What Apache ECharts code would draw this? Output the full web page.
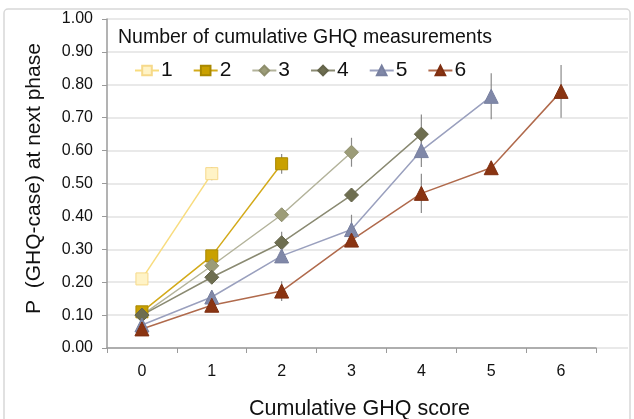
<!DOCTYPE html>
<html>
<head>
<meta charset="utf-8">
<script src="https://cdn.jsdelivr.net/npm/echarts@6/dist/echarts.min.js"></script>
<style>
html,body{margin:0;padding:0;background:#fff;overflow:hidden;}
#c{width:634px;height:419px;}
</style>
</head>
<body>
<div id="c"></div>
<script>
const categories = ['0','1','2','3','4','5','6'];
const seriesNames = ['1','2','3','4','5','6'];
const s1 = [0.21, 0.53];
const s2 = [0.11, 0.28, 0.56];
const s3 = [0.10, 0.25, 0.405, 0.595];
const s4 = [0.10, 0.215, 0.32, 0.465, 0.65];
const s5 = [0.07, 0.155, 0.28, 0.36, 0.60, 0.765];
const s6 = [0.058, 0.13, 0.173, 0.328, 0.47, 0.548, 0.78];
const e1 = [0.01, 0.02];
const e2 = [0.01, 0.015, 0.03];
const e3 = [0.01, 0.015, 0.02, 0.044];
const e4 = [0.01, 0.015, 0.033, 0.02, 0.06];
const e5 = [0.01, 0.015, 0.02, 0.045, 0.05, 0.07];
const e6 = [0.01, 0.015, 0.03, 0.02, 0.06, 0.02, 0.08];
const yTicks = ['0.00','0.10','0.20','0.30','0.40','0.50','0.60','0.70','0.80','0.90','1.00'];

const values = [s1, s2, s3, s4, s5, s6];
const errors = [e1, e2, e3, e4, e5, e6];
const styles = [
  {symbol:'rect', size:12, fill:'#FFF3C6', border:'#F6D98A', line:'#F8DC7E'},
  {symbol:'rect', size:12, fill:'#C9A000', border:'#A98800', line:'#D3AA1A'},
  {symbol:'diamond', size:14, fill:'#9C9C78', border:'#8E8E6C', line:'#B3B39B'},
  {symbol:'diamond', size:14, fill:'#6E6E50', border:'#64644A', line:'#8A8A72'},
  {symbol:'triangle', size:14, fill:'#8088A8', border:'#7880A0', line:'#9AA0BE'},
  {symbol:'triangle', size:14, fill:'#8A3412', border:'#7E2E10', line:'#B06A4C'}
];

const chart = echarts.init(document.getElementById('c'), null, {width: 634, height: 419});
const series = [];
values.forEach((v, i) => {
  const st = styles[i];
  series.push({
    name: seriesNames[i],
    type: 'line',
    data: v,
    symbol: st.symbol,
    symbolSize: st.size,
    z: 5,
    lineStyle: {color: st.line, width: 1.5},
    itemStyle: {color: st.fill, borderColor: st.border, borderWidth: 1},
    emphasis: {disabled: true},
    animation: false
  });
  series.push({
    type: 'custom',
    z: 3,
    silent: true,
    animation: false,
    data: v.map((val, k) => [k, val - errors[i][k], val + errors[i][k]]),
    renderItem: function (params, api) {
      const lo = api.coord([api.value(0), api.value(1)]);
      const hi = api.coord([api.value(0), api.value(2)]);
      return {type:'line', shape:{x1:lo[0], y1:lo[1], x2:hi[0], y2:hi[1]}, style:{stroke:'#8a8a8a', lineWidth:1.2}};
    }
  });
});

chart.setOption({
  animation: false,
  backgroundColor: '#fff',
  textStyle: {fontFamily: 'Liberation Sans, Arial, sans-serif'},
  title: {
    text: 'Number of cumulative GHQ measurements',
    left: 113, top: 23,
    textStyle: {fontFamily: 'Liberation Sans, Arial, sans-serif', fontSize: 19.5, fontWeight: 'normal', color: '#111'}
  },
  legend: {
    data: seriesNames,
    left: 129, top: 55,
    itemWidth: 24, itemHeight: 12, itemGap: 20,
    textStyle: {fontFamily: 'Liberation Sans, Arial, sans-serif', fontSize: 21, color: '#111', padding:[0,0,0,-3]}
  },
  graphic: [{
    type: 'rect', silent: true,
    shape: {x: 4, y: 9, width: 626, height: 420, r: 4},
    style: {fill: 'none', stroke: '#d8d8d8', lineWidth: 1.5}
  }],
  grid: [
    {left: 107, right: 38, top: 19, bottom: 71, containLabel: false, outerBoundsMode: 'none'},
    {left: 107, right: 6, top: 19, bottom: 71, containLabel: false, outerBoundsMode: 'none'}
  ],
  xAxis: [{
    type: 'category',
    gridIndex: 0,
    data: categories,
    boundaryGap: true,
    name: 'Cumulative GHQ score',
    nameLocation: 'middle',
    nameGap: 50,
    nameTextStyle: {fontSize: 21.5, color: '#111', padding: [0, 0, 0, 16]},
    axisLine: {lineStyle: {color: '#9a9a9a', width: 1.5}},
    axisTick: {show: true, interval: 0, length: 5, lineStyle: {color: '#9a9a9a'}},
    axisLabel: {fontSize: 16, color: '#111', margin: 16},
    z: 2
  }, {
    type: 'value', gridIndex: 1, min: 0, max: 1, show: false
  }],
  yAxis: [{
    type: 'value',
    gridIndex: 0,
    min: 0, max: 1, interval: 0.1,
    name: 'P  (GHQ-case) at next phase',
    nameLocation: 'middle',
    nameGap: 62,
    nameTextStyle: {fontSize: 21, color: '#111', padding: [0, 0, 0, 10]},
    axisLine: {show: true, lineStyle: {color: '#9a9a9a', width: 1.5}},
    axisTick: {show: true, length: 5, lineStyle: {color: '#9a9a9a'}},
    axisLabel: {fontSize: 16, color: '#111', margin: 14,
      formatter: function (v) { return yTicks[Math.round(v * 10)]; }},
    splitLine: {show: false},
    z: 2
  }, {
    type: 'value',
    gridIndex: 1,
    min: 0, max: 1, interval: 0.1,
    axisLine: {show: false},
    axisTick: {show: false},
    axisLabel: {show: false},
    splitLine: {show: true, lineStyle: {color: '#e2e2e2', width: 1.5}},
    z: 0
  }],
  series: series
});
</script>
</body>
</html>
